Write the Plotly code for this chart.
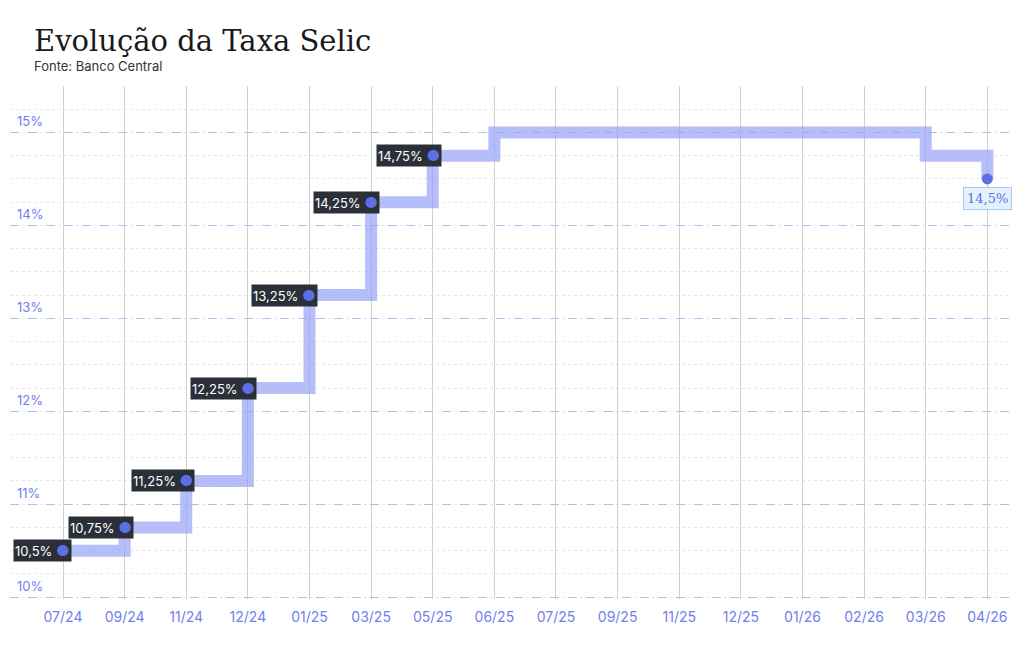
import plotly.graph_objects as go

months = ["07/24","09/24","11/24","12/24","01/25","03/25","05/25","06/25","07/25","09/25","11/25","12/25","01/26","02/26","03/26","04/26"]
rates = [10.5,10.75,11.25,12.25,13.25,14.25,14.75,15,15,15,15,15,15,15,14.75,14.5]
labels = ["10,5%","10,75%","11,25%","12,25%","13,25%","14,25%","14,75%"]
yticks = [10,11,12,13,14,15]
ylabels = ["10%","11%","12%","13%","14%","15%"]

idx = list(range(len(months)))
fig = go.Figure()
fig.add_trace(go.Scatter(x=idx, y=rates, mode="lines", line=dict(shape="hv", color="rgba(150,162,245,0.7)", width=12), hoverinfo="skip"))
fig.add_trace(go.Scatter(x=[idx[-1]], y=[rates[-1]], mode="markers", marker=dict(color="#5d6fe6", size=11), hoverinfo="skip"))

for i, t in enumerate(labels):
    fig.add_annotation(x=i, y=rates[i], text=t + " <span style='color:#5d6fe6;font-size:15px'>●</span>",
                       showarrow=False, xanchor="right", xshift=9,
                       font=dict(color="white", size=13, family="Inter"), bgcolor="#2b3038",
                       borderpad=1)
fig.add_annotation(x=len(months)-1, y=rates[-1], text="14,5%", showarrow=False, yanchor="top", yshift=-8,
                   font=dict(color="#5d6fe6", size=13, family="DejaVu Serif"), bgcolor="#e3f2fd",
                   bordercolor="#a9c8f0", borderwidth=1, borderpad=3)
for v, t in zip(yticks, ylabels):
    fig.add_annotation(xref="paper", x=0.005, y=v, text=t, showarrow=False, xanchor="left", yanchor="bottom",
                       yshift=1, font=dict(color="#6f80ee", size=13, family="Inter"))
fig.add_annotation(xref="paper", yref="paper", x=0.022, y=1.088, xanchor="left", yanchor="middle", showarrow=False,
                   text="Evolução da Taxa Selic", font=dict(family="DejaVu Serif", size=29, color="#1a1a1a"))
fig.add_annotation(xref="paper", yref="paper", x=0.022, y=1.039, xanchor="left", yanchor="middle", showarrow=False,
                   text="Fonte: Banco Central", font=dict(family="Inter", size=13, color="#333"))

fig.update_layout(
    width=1024, height=654, plot_bgcolor="white", paper_bgcolor="white", showlegend=False,
    margin=dict(l=2, r=20, t=78, b=63),
    xaxis=dict(tickmode="array", tickvals=idx, ticktext=months, range=[-0.86, 15.4],
               showgrid=True, gridcolor="#d0d0d0", gridwidth=1, zeroline=False, showline=False,
               tickfont=dict(color="#6f80ee", size=14, family="Inter"), ticks="", ticklabelstandoff=8),
    yaxis=dict(range=[9.98, 15.5], tickvals=yticks, showticklabels=False, showgrid=True,
               gridcolor="#b4bbf5", griddash="dash", gridwidth=1, zeroline=False,
               minor=dict(dtick=0.25, showgrid=True, gridcolor="#e6e6e6", griddash="dot")),
)
fig.write_html("out.html")
